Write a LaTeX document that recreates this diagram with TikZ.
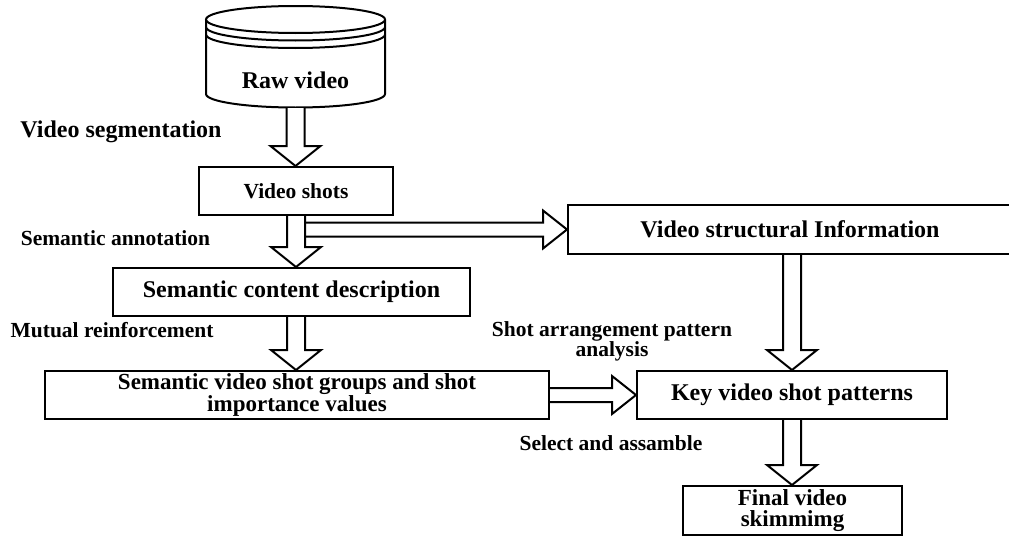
\documentclass[tikz,border=0pt]{standalone}
\usepackage{fontspec}
\setmainfont{Liberation Serif}
\usetikzlibrary{calc}

\tikzset{
  box/.style={draw, line width=2pt, fill=white, align=center, inner sep=0pt,
    font=\bfseries\fontsize{24}{22.5}\selectfont},
  twoline/.style={font=\bfseries\fontsize{23}{21.5}\selectfont},
  lbl/.style={align=center, inner sep=0pt,
    font=\bfseries\fontsize{21.5}{20}\selectfont},
  blk/.style={draw, line width=2pt, fill=white, line join=miter},
}

% block arrow going down, from #1 to the level of #2
\newcommand{\blkdown}[2]{
  \draw[blk] let \p1=(#1), \p2=(#2) in
    (\x1-9pt,\y1) -- (\x1-9pt,\y2+20pt) -- (\x1-25pt,\y2+20pt) -- (\x1,\y2)
    -- (\x1+25pt,\y2+20pt) -- (\x1+9pt,\y2+20pt) -- (\x1+9pt,\y1);
}
% block arrow going right, from #1 to #2
\newcommand{\blkright}[2]{
  \draw[blk] let \p1=(#1), \p2=(#2) in
    (\x1,\y2+7pt) -- (\x2-24pt,\y2+7pt) -- (\x2-24pt,\y2+19pt) -- (\x2,\y2)
    -- (\x2-24pt,\y2-19pt) -- (\x2-24pt,\y2-7pt) -- (\x1,\y2-7pt);
}

\begin{document}
\begin{tikzpicture}[x=1pt, y=-1pt]
  \useasboundingbox (0,0) rectangle (1009,538);

  % -- Raw video
  \draw[line width=2pt, fill=white] (206,19.5) -- (206,94)
    arc[start angle=180, end angle=360, x radius=89.5pt, y radius=13.5pt]
    -- (385,19.5);
  \draw[line width=2pt] (295.5,19.5) ellipse [x radius=89.5pt, y radius=13.5pt];
  \draw[line width=2pt] (206,27)
    arc[start angle=180, end angle=360, x radius=89.5pt, y radius=13.5pt];
  \draw[line width=2pt] (206,34.5)
    arc[start angle=180, end angle=360, x radius=89.5pt, y radius=13.5pt];
  \node[box, draw=none, fill=none] (raw) at (295.5,80) {Raw video};
  \coordinate (rawbot) at (295.5,108);

  % -- boxes
  \node[box, minimum width=194pt, minimum height=48pt,
    font=\bfseries\fontsize{21.5}{22}\selectfont] (shots) at (296,191) {Video shots};
  \node[box, minimum width=444pt, minimum height=49pt] (struct) at (790,229.5)
    {Video structural Information};
  \node[box, minimum width=357pt, minimum height=48pt] (semcont) at (291.5,292)
    {Semantic content description};
  \node[box, twoline, minimum width=504pt, minimum height=48pt] (groups) at (297,395)
    {Semantic video shot groups and shot\\importance values};
  \node[box, minimum width=310pt, minimum height=48pt] (key) at (792,395)
    {Key video shot patterns};
  \node[box, twoline, minimum width=219pt, minimum height=49pt] (final) at (792.5,510.5)
    {Final video\\skimmimg};

  % -- block arrows
  \blkdown{rawbot}{shots.north}
  \blkright{$(shots.south)+(9,0)$}{struct.west}
  \blkdown{shots.south}{semcont.north}
  \blkdown{semcont.south -| shots.south}{groups.north}
  \blkdown{struct.south -| key.north}{key.north}
  \blkright{groups.east}{key.west}
  \blkdown{key.south}{final.north}

  % -- labels
  \node[lbl, font=\bfseries\fontsize{24}{25}\selectfont] (seg) at (121,132)
    {Video segmentation};
  \node[lbl] (annot) at (115.5,238) {Semantic annotation};
  \node[lbl] (mutual) at (112,330) {Mutual reinforcement};
  \node[lbl] (arrange) at (612,341) {Shot arrangement pattern\\analysis};
  \node[lbl] (select) at (611,443) {Select and assamble};
\end{tikzpicture}
\end{document}
